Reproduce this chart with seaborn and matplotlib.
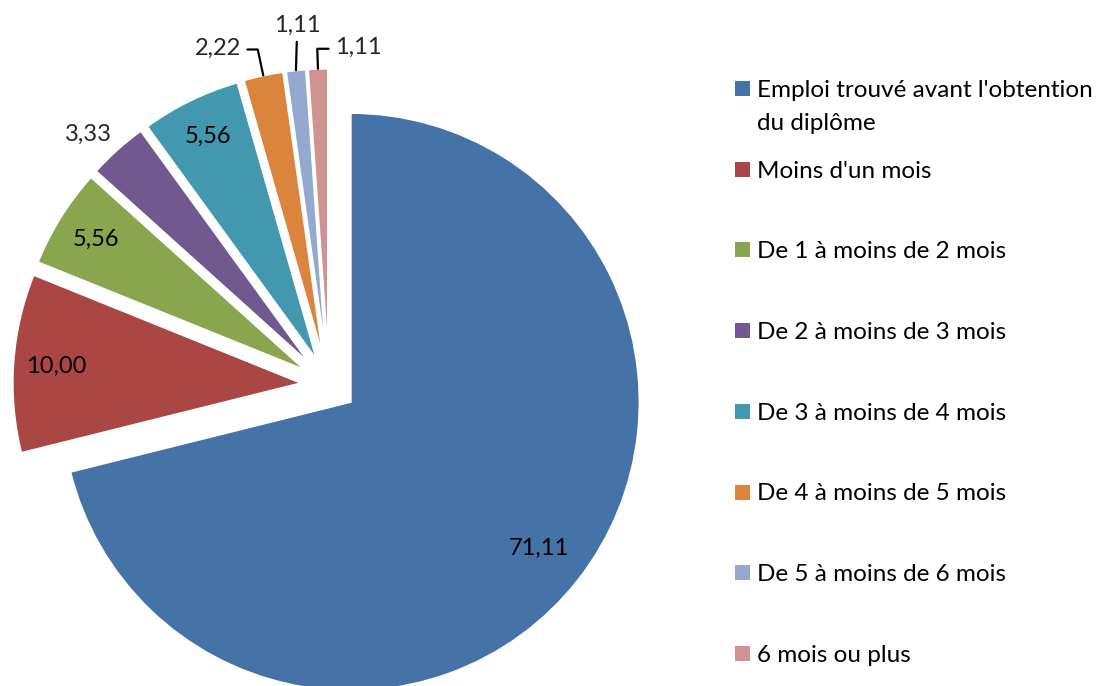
import matplotlib
matplotlib.use("Agg")
import matplotlib.pyplot as plt
import seaborn as sns
import numpy as np
from matplotlib.patches import Rectangle

categories = ["Emploi trouvé avant l'obtention\ndu diplôme", "Moins d'un mois",
              "De 1 à moins de 2 mois", "De 2 à moins de 3 mois",
              "De 3 à moins de 4 mois", "De 4 à moins de 5 mois",
              "De 5 à moins de 6 mois", "6 mois ou plus"]
values = [71.11, 10.00, 5.56, 3.33, 5.56, 2.22, 1.11, 1.11]
colors = ["#4572A7", "#AA4643", "#89A54E", "#71588F", "#4198AF", "#DB843D", "#93A9CF", "#D19392"]

sns.set_theme(style="white")
plt.rcParams['font.family'] = ['Lato', 'DejaVu Sans']

W, H = 1101, 686
fig = plt.figure(figsize=(W / 100, H / 100), dpi=100)
ax = fig.add_axes([0, 0, 1, 1])
R = 289.0          # pixels per data unit (pie radius)
cx, cy = 329, 385  # pie centre in pixels from top-left

wedges, _ = ax.pie(values, colors=colors, startangle=90, counterclock=False,
                   explode=[0.095] * len(values), radius=1,
                   wedgeprops=dict(edgecolor="white", linewidth=1.5))
ax.set_aspect("auto")
ax.set_xlim(-cx / R, (W - cx) / R)
ax.set_ylim(-(H - cy) / R, cy / R)
ax.axis("off")

FS = 17
LFS = 17.5
fmt = lambda v: f"{v:.2f}".replace(".", ",")

# label layout: ('in', radius fraction) or ('out', dx_px, dy_px, kind)
layout = [("in", 0.825), ("in", 0.85), ("in", 0.856), ("out", -29, 15, None),
          ("in", 0.863), ("out", -45, 27, "left"), ("out", 1, 45, "up"), ("out", 40, 21, "right")]

for w, v, lay in zip(wedges, values, layout):
    ang = (w.theta1 + w.theta2) / 2
    t = np.deg2rad(ang)
    c = np.array(w.center)
    if lay[0] == "in":
        p = c + lay[1] * w.r * np.array([np.cos(t), np.sin(t)])
        ax.text(p[0], p[1], fmt(v), ha="center", va="center", fontsize=FS, color="black")
    else:
        p = c + w.r * np.array([np.cos(t), np.sin(t)])
        kind = lay[3]
        if kind is None:
            ax.annotate(fmt(v), xy=p, xytext=(lay[1], lay[2]), textcoords="offset pixels",
                        ha="center", va="center", fontsize=FS)
        else:
            if kind == "left":
                ap = dict(arrowstyle="-", color="black", lw=1.6, shrinkA=2, shrinkB=0,
                          relpos=(1, 0.45), connectionstyle=f"angle,angleA=0,angleB={ang},rad=0")
            elif kind == "right":
                ap = dict(arrowstyle="-", color="black", lw=1.6, shrinkA=2, shrinkB=0,
                          relpos=(0, 0.45), connectionstyle=f"angle,angleA=0,angleB={ang},rad=0")
            else:
                ap = dict(arrowstyle="-", color="black", lw=1.6, shrinkA=2, shrinkB=0,
                          relpos=(0.5, 0), connectionstyle="arc3,rad=0")
            ax.annotate(fmt(v), xy=p, xytext=(lay[1], lay[2]), textcoords="offset pixels",
                        ha="center", va="center", fontsize=FS, arrowprops=ap)

# legend
lx, ly0, step, sq, line_gap = 735, 88.5, 80.7, 15, 33
for i, (lab, col) in enumerate(zip(categories, colors)):
    y = ly0 + i * step
    n_extra = lab.count("\n")
    fig.add_artist(Rectangle((lx / W, 1 - (y + sq / 2) / H), sq / W, sq / H,
                             transform=fig.transFigure, facecolor=col, edgecolor="none"))
    fig.text((lx + 22) / W, 1 - (y + 8.5 + n_extra * line_gap) / H, lab, ha="left",
             va="baseline", fontsize=LFS, linespacing=1.68, color="black")

fig.savefig("out.png", dpi=100)
